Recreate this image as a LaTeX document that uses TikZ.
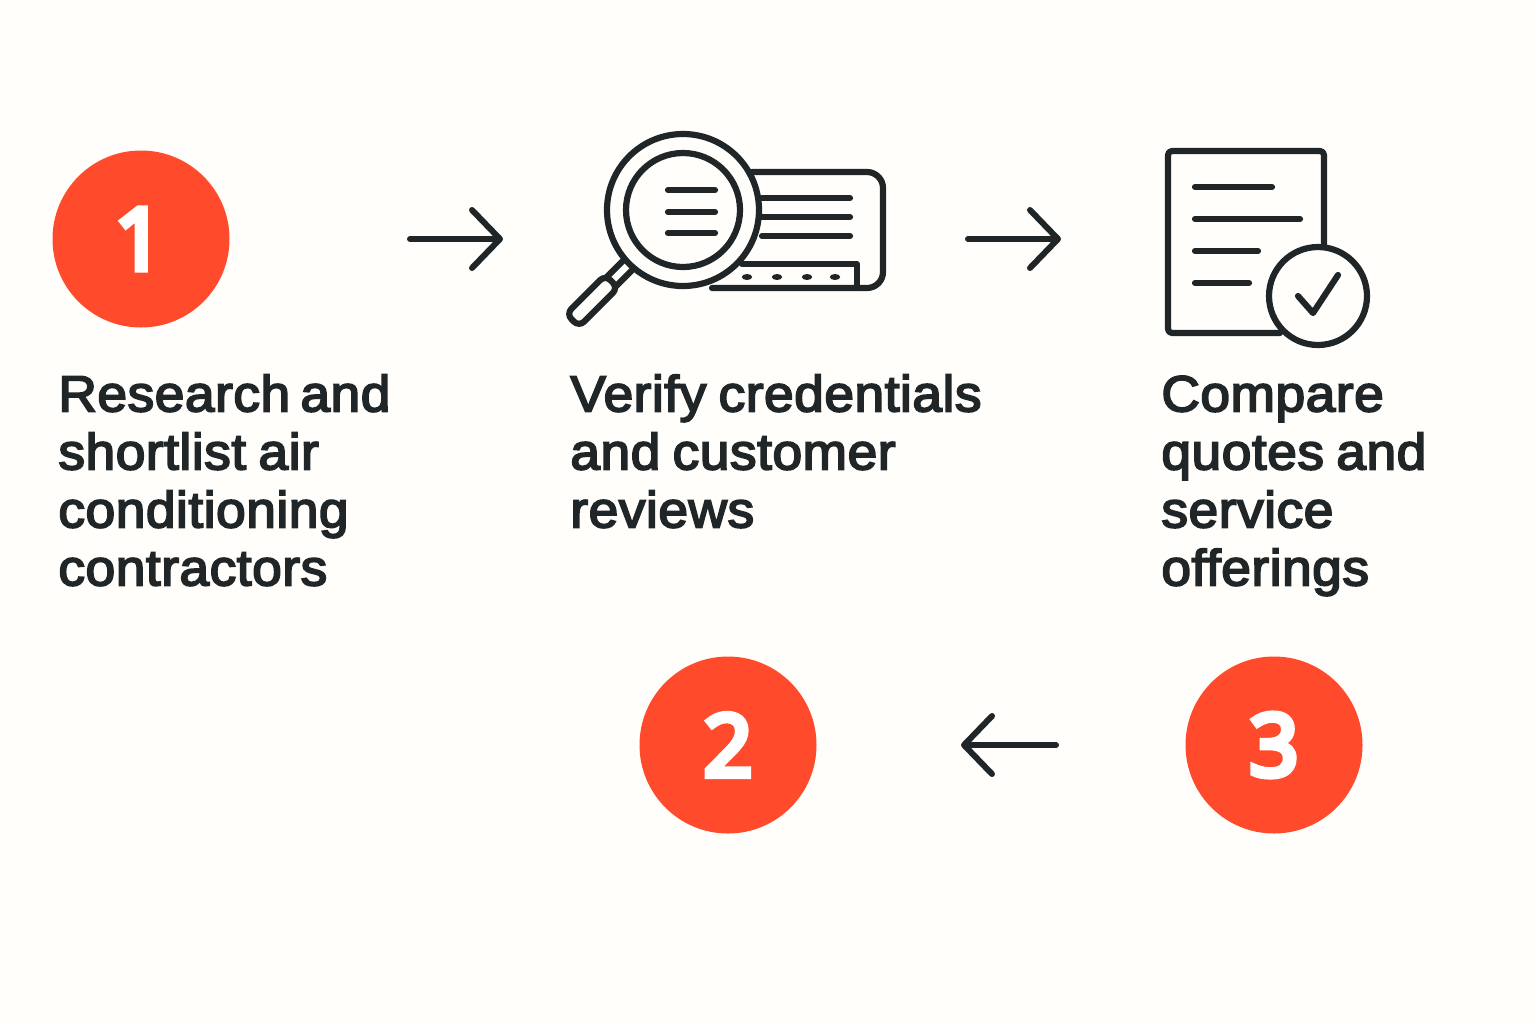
\documentclass[tikz,border=0pt]{standalone}
\usepackage{fontspec}
\usetikzlibrary{arrows.meta}
\newfontfamily\labelfont[FakeBold=3.5,FakeStretch=1.05,LetterSpace=1,WordSpace=0.8]{Liberation Sans}
\newfontfamily\digitfont[FakeBold=7]{Noto Sans}
\definecolor{ink}{HTML}{202628}
\definecolor{accent}{HTML}{FF4B2B}
\definecolor{paper}{HTML}{FFFEFB}
\newcommand{\capstart}{\rule{0pt}{20pt}}
\tikzset{
  x=.5pt,y=-.5pt,
  badge/.style={circle,fill=accent,minimum size=88.5pt,inner sep=0pt,text=white,font=\digitfont\fontsize{43}{43}\selectfont},
  caption/.style={anchor=north west,align=left,inner sep=0pt,text=ink,font=\labelfont\fontsize{25.4}{29}\selectfont},
  flow/.style={draw=ink,line width=3pt,line cap=round,line join=round,-{Straight Barb[length=14pt,width=29pt,line width=3pt,round]}},
  icon/.style={draw=ink,line width=3.1pt,line cap=round,line join=round},
}
\begin{document}
\begin{tikzpicture}
\useasboundingbox[fill=paper] (0,0) rectangle (1536,1024);
\node[badge] (one) at (141,239) {1\kern 2pt};
\node[badge] (two) at (728,745) {2};
\node[badge] (three) at (1274,745) {3};
\node[caption] (capa) at (58,371) {\capstart Research\kern-1pt\ and\\shortlist air\\conditioning\\contractors};
\node[caption] (capb) at (570,371) {\capstart Verify credentials\\and customer\\reviews};
\node[caption] (capc) at (1161,371) {\capstart Compare\\quotes and\\service\\offerings};
\coordinate (a1) at (410,239); \coordinate (a2) at (503,239);
\coordinate (b1) at (968,239); \coordinate (b2) at (1061,239);
\coordinate (c1) at (1056,745); \coordinate (c2) at (961,745);
\draw[flow] (a1) -- (a2);
\draw[flow] (b1) -- (b2);
\draw[flow] (c1) -- (c2);
% air conditioner
\draw[icon,rounded corners=8pt] (752,172) -- (883,172) -- (883,288) -- (712,288);
\draw[icon] (762,198) -- (850,198) (762,217) -- (850,217) (762,236) -- (850,236);
\draw[icon] (742,264) -- (857,264) -- (857,288);
\foreach \px in {747,777,807,835} \fill[ink] (\px,277) ellipse (2.6pt and 1.5pt);
% magnifier
\draw[icon] (683,210) circle (38pt);
\draw[icon] (683,210) circle (28.5pt);
\draw[icon] (668,190) -- (715,190) (668,212) -- (715,212) (668,233) -- (715,233);
\begin{scope}[shift={(683,210)},rotate=-135]
\draw[icon,rounded corners=3.5pt] (101,-9) -- (156,-9) -- (156,9) -- (101,9) -- cycle;
\draw[icon] (79,-6.5) -- (101,-6.5) (79,6.5) -- (101,6.5);
\end{scope}
% document
\draw[icon,rounded corners=2pt] (1324,245) -- (1324,151) -- (1168,151) -- (1168,333) -- (1280,333);
\draw[icon] (1195,187) -- (1272,187) (1195,219) -- (1300,219) (1195,251) -- (1258,251) (1195,283) -- (1249,283);
\draw[icon] (1318,296) circle (24.5pt);
\draw[icon] (1298,296) -- (1313,313) -- (1338,275);
\end{tikzpicture}
\end{document}
